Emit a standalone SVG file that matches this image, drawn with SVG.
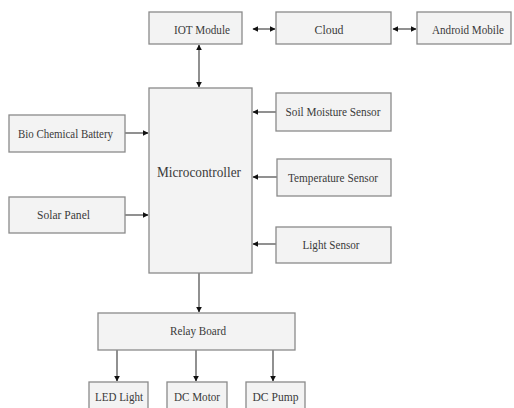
<svg xmlns="http://www.w3.org/2000/svg" width="514" height="408" viewBox="0 0 514 408">
<style>
.box{fill:#f3f3f3;stroke:#8a8a8a;stroke-width:1.3}
.t{font-family:"Liberation Serif","Times New Roman",serif;font-size:13px;fill:#3a3a3a;text-anchor:middle}
.big{font-size:15px}
.c{stroke:#555;stroke-width:1.3;fill:none}
</style>
<defs>
<marker id="ah" viewBox="0 0 10 10" refX="9" refY="5" markerWidth="6" markerHeight="6" markerUnits="userSpaceOnUse" orient="auto-start-reverse">
<path d="M0,0 L10,5 L0,10 z" fill="#111"/>
</marker>
</defs>
<rect width="514" height="408" fill="#fff"/>
<g id="connectors">
<line class="c" x1="253" y1="29" x2="275" y2="29" marker-start="url(#ah)" marker-end="url(#ah)"/>
<line class="c" x1="393" y1="29" x2="416" y2="29" marker-start="url(#ah)" marker-end="url(#ah)"/>
<line class="c" x1="199" y1="45" x2="199" y2="87" marker-start="url(#ah)" marker-end="url(#ah)"/>
<line class="c" x1="125" y1="133" x2="148" y2="133" marker-end="url(#ah)"/>
<line class="c" x1="125" y1="215" x2="148" y2="215" marker-end="url(#ah)"/>
<line class="c" x1="276" y1="112" x2="253" y2="112" marker-end="url(#ah)"/>
<line class="c" x1="277" y1="177" x2="253" y2="177" marker-end="url(#ah)"/>
<line class="c" x1="276" y1="244" x2="253" y2="244" marker-end="url(#ah)"/>
<line class="c" x1="199" y1="273" x2="199" y2="312" marker-end="url(#ah)"/>
<line class="c" x1="117" y1="350" x2="117" y2="381" marker-end="url(#ah)"/>
<line class="c" x1="196" y1="350" x2="196" y2="381" marker-end="url(#ah)"/>
<line class="c" x1="273" y1="350" x2="273" y2="381" marker-end="url(#ah)"/>
</g>
<g id="iot"><rect class="box" x="149" y="12" width="93" height="32"/><text class="t" x="202" y="34" textLength="56" lengthAdjust="spacingAndGlyphs">IOT Module</text></g>
<g id="cloud"><rect class="box" x="276" y="12" width="115" height="32"/><text class="t" x="329" y="34" textLength="29" lengthAdjust="spacingAndGlyphs">Cloud</text></g>
<g id="android"><rect class="box" x="417" y="12" width="94" height="32"/><text class="t" x="468" y="34" textLength="72" lengthAdjust="spacingAndGlyphs">Android Mobile</text></g>
<g id="micro"><rect class="box" x="149" y="88" width="103" height="185"/><text class="t big" x="199" y="177" textLength="84" lengthAdjust="spacingAndGlyphs">Microcontroller</text></g>
<g id="battery"><rect class="box" x="9" y="115" width="116" height="37"/><text class="t" x="65.5" y="138" textLength="95" lengthAdjust="spacingAndGlyphs">Bio Chemical Battery</text></g>
<g id="solar"><rect class="box" x="9" y="197" width="116" height="36"/><text class="t" x="63.5" y="219" textLength="53" lengthAdjust="spacingAndGlyphs">Solar Panel</text></g>
<g id="soil"><rect class="box" x="276" y="93" width="115" height="38"/><text class="t" x="333" y="116" textLength="95" lengthAdjust="spacingAndGlyphs">Soil Moisture Sensor</text></g>
<g id="temp"><rect class="box" x="277" y="159" width="114" height="37"/><text class="t" x="333" y="181.5" textLength="90" lengthAdjust="spacingAndGlyphs">Temperature Sensor</text></g>
<g id="light"><rect class="box" x="276" y="227" width="115" height="36"/><text class="t" x="331" y="249" textLength="57" lengthAdjust="spacingAndGlyphs">Light Sensor</text></g>
<g id="relay"><rect class="box" x="98" y="313" width="197" height="37"/><text class="t" x="198" y="335" textLength="56" lengthAdjust="spacingAndGlyphs">Relay Board</text></g>
<g id="led"><rect class="box" x="89" y="382" width="59" height="30"/><text class="t" x="119" y="401" textLength="48" lengthAdjust="spacingAndGlyphs">LED Light</text></g>
<g id="motor"><rect class="box" x="167" y="382" width="60" height="30"/><text class="t" x="197" y="401" textLength="46" lengthAdjust="spacingAndGlyphs">DC Motor</text></g>
<g id="pump"><rect class="box" x="246" y="382" width="59" height="30"/><text class="t" x="275.5" y="401" textLength="46" lengthAdjust="spacingAndGlyphs">DC Pump</text></g>
</svg>
